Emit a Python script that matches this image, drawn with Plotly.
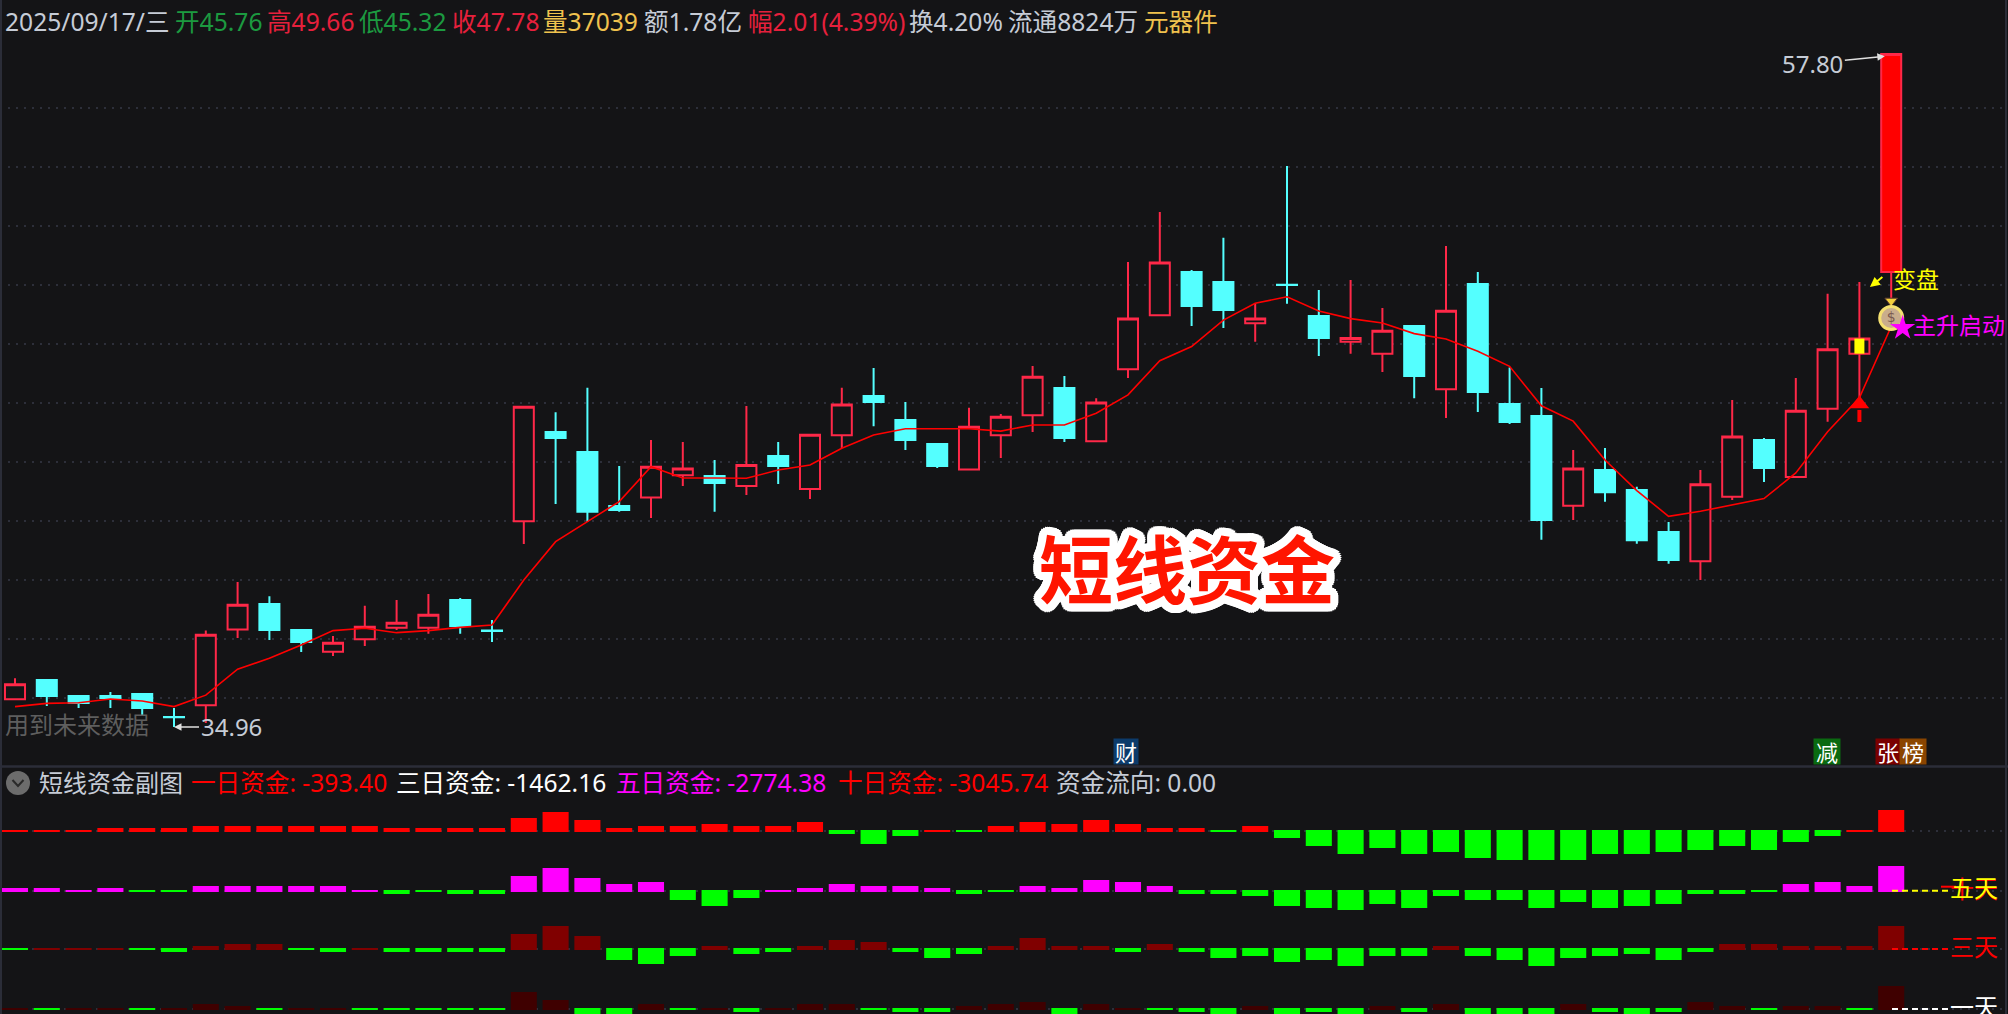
import math
import plotly.graph_objects as go

W, H = 2008, 1014
BG = "#141416"
FONT = "'Noto Sans', 'Noto Sans CJK SC'"
UP = "#ff2848"
DOWN = "#54ffff"
GRIDC = "#2d2f3a"
REDT = "#e6203c"
GREENT = "#1c9a40"
GOLD = "#f0c24e"
GREY = "#c6ccd6"

day_index = list(range(60))
open_px = [35.90, 36.55, 36.01, 36.01, 36.08, 35.30, 35.70, 38.27, 39.13, 38.25,
           37.51, 37.94, 38.33, 38.33, 39.27, 38.23, 41.94, 44.97, 44.29, 42.46,
           42.75, 43.50, 43.48, 43.14, 44.16, 43.04, 44.86, 46.19, 45.38, 44.56,
           43.70, 44.86, 45.54, 46.46, 44.66, 47.10, 48.93, 50.40, 50.06, 48.66,
           49.97, 48.91, 48.03, 47.63, 48.57, 46.42, 49.99, 45.92, 45.51, 42.47,
           43.68, 43.00, 41.58, 40.58, 42.77, 44.70, 43.44, 45.76, 47.63, 50.40]
high_px = [36.61, 36.55, 36.01, 36.15, 36.08, 35.60, 38.23, 39.88, 39.40, 38.25,
           38.05, 39.07, 39.27, 39.47, 39.34, 38.59, 45.83, 45.64, 46.47, 43.82,
           44.70, 44.63, 44.02, 45.85, 44.63, 44.88, 46.47, 47.14, 45.99, 44.56,
           45.79, 45.58, 47.21, 46.87, 46.12, 50.74, 52.44, 50.47, 51.56, 49.35,
           54.00, 49.79, 50.13, 49.18, 48.57, 51.28, 50.40, 47.16, 46.46, 44.36,
           44.43, 43.11, 41.92, 43.68, 46.06, 44.77, 46.80, 49.66, 50.06, 57.80]
low_px = [35.90, 35.67, 35.60, 35.60, 35.33, 34.96, 35.09, 37.98, 37.91, 37.50,
          37.37, 37.71, 38.25, 38.12, 38.12, 37.84, 41.17, 42.53, 41.92, 42.26,
          42.05, 43.14, 42.26, 42.83, 43.21, 42.70, 44.43, 45.17, 44.36, 43.75,
          43.70, 44.09, 44.97, 44.63, 44.66, 46.80, 48.93, 48.57, 48.50, 48.03,
          49.32, 47.55, 47.63, 47.01, 46.12, 45.45, 45.65, 45.24, 41.31, 41.98,
          42.60, 41.18, 40.50, 39.95, 42.66, 43.27, 43.44, 45.32, 46.12, 49.52]
close_px = [36.41, 36.01, 35.77, 35.94, 35.60, 35.29, 38.09, 39.11, 38.25, 37.84,
            37.82, 38.36, 38.50, 38.77, 38.39, 38.22, 45.83, 44.77, 42.26, 42.32,
            43.79, 43.73, 43.24, 43.85, 43.82, 44.88, 45.90, 45.99, 44.70, 43.82,
            45.15, 45.49, 46.85, 44.77, 45.97, 48.82, 50.72, 49.25, 49.11, 48.82,
            49.96, 48.16, 48.16, 48.41, 46.87, 49.09, 46.33, 45.31, 41.98, 43.73,
            42.93, 41.30, 40.63, 43.20, 44.82, 43.75, 45.69, 47.78, 48.14, 57.80]
ma_line = [35.65, 35.76, 35.78, 35.91, 35.84, 35.65, 36.04, 36.92, 37.29, 37.74,
           38.23, 38.31, 38.16, 38.23, 38.34, 38.42, 39.95, 41.25, 41.93, 42.61,
           43.79, 43.41, 43.41, 43.40, 43.68, 43.85, 44.42, 44.87, 45.08, 45.08,
           45.08, 45.00, 45.21, 45.21, 45.61, 46.23, 47.39, 47.87, 48.77, 49.34,
           49.56, 49.08, 48.82, 48.67, 48.31, 48.13, 47.71, 47.20, 45.86, 45.34,
           44.02, 42.98, 42.11, 42.28, 42.49, 42.71, 43.58, 44.98, 46.13, 48.55]
grid_prices = [35.95, 37.96, 39.96, 41.96, 43.96, 45.97, 47.97, 49.97, 51.97, 53.98, 55.98]

ten_day = [2, 2, 2, 4, 4, 4, 6, 6, 6, 6, 6, 6, 4, 4, 4, 4, 14, 20, 12, 4, 6, 6,
           8, 6, 6, 10, -4, -14, -6, 2, -2, 6, 10, 8, 12, 8, 4, 4, -2, 6, -8, -16,
           -24, -18, -24, -22, -28, -30, -30, -30, -24, -24, -22, -20, -16, -20, -12, -6, 2, 22]
five_day = [4, 4, 2, 4, -2, -2, 6, 6, 6, 6, 6, 2, -4, -2, -4, -4, 16, 24, 14, 8, 10, -10,
            -16, -8, 2, 4, 8, 6, 6, 4, -4, -2, 6, 4, 12, 10, 6, -4, -4, -6, -16, -18,
            -20, -14, -18, -6, -10, -10, -18, -12, -18, -16, -14, -4, -4, -2, 8, 10, 6, 26]
three_day = [-2, 2, 2, 2, -2, -4, 4, 6, 6, -2, -4, 2, -4, -4, -4, -4, 16, 24, 14, -12, -16, -8,
             4, -6, -4, 4, 10, 8, -4, -10, -6, 4, 12, 4, 4, -4, 6, -4, -10, -8, -14, -12,
             -18, -8, -8, 4, -8, -12, -18, -10, -8, -6, -12, -4, 6, 6, 4, 4, 4, 24]
one_day = [2, -2, 2, 2, -2, 2, 6, 4, -2, 2, 2, -2, -2, -2, -2, -2, 18, 10, -8, -8, 6, -2,
           2, -4, 2, 6, 6, -2, -4, -4, 4, 6, 8, -8, 6, 2, -2, -4, -8, 4, -8, -4,
           -8, 4, -4, 6, -8, -8, -8, 6, -4, -8, -4, 8, 4, -2, 4, 4, -2, 24]

header = [("2025/09/17/三", 3, GREY), ("开45.76", 173, GREENT), ("高49.66", 265, REDT), ("低45.32", 357, GREENT),
          ("收47.78", 450, REDT), ("量37039", 541, GOLD), ("额1.78亿", 642, GREY), ("幅2.01(4.39%)", 746, REDT),
          ("换4.20%", 907, GREY), ("流通8824万", 1006, GREY), ("元器件", 1142, GOLD)]
sub_header = [("短线资金副图", 37, GREY), ("一日资金: -393.40", 189, "#ff0000"), ("三日资金: -1462.16", 394, "#ffffff"),
              ("五日资金: -2774.38", 614, "#ff00ff"), ("十日资金: -3045.74", 836, "#ff0000"), ("资金流向: 0.00", 1054, GREY)]


def px(x):
    return x / W


def py(y):
    return 1 - y / H


annotations = []


def label(text, x, y, color, size=24, anchor="left", **kw):
    annotations.append(dict(text=text, x=px(x), y=py(y), xref="paper", yref="paper", xanchor=anchor,
                            yanchor="middle", showarrow=False, font=dict(family=FONT, size=size, color=color), **kw))


fig = go.Figure()

# main candles
fig.add_trace(go.Candlestick(
    x=day_index[:-1], open=open_px[:-1], high=high_px[:-1], low=low_px[:-1], close=close_px[:-1],
    increasing=dict(line=dict(color=UP, width=2), fillcolor=BG),
    decreasing=dict(line=dict(color=DOWN, width=2), fillcolor=DOWN),
    whiskerwidth=0, hoverinfo="skip", showlegend=False))
fig.add_trace(go.Candlestick(
    x=day_index[-1:], open=open_px[-1:], high=high_px[-1:], low=low_px[-1:], close=close_px[-1:],
    increasing=dict(line=dict(color=UP, width=2), fillcolor="#ff0000"),
    decreasing=dict(line=dict(color=DOWN, width=2), fillcolor=DOWN),
    whiskerwidth=0, hoverinfo="skip", showlegend=False))
# yellow marked day
fig.add_trace(go.Scatter(x=[58, 58], y=[open_px[58], close_px[58]], mode="lines", line=dict(color="#ffff00", width=10),
                         hoverinfo="skip", showlegend=False))
# moving line
fig.add_trace(go.Scatter(x=day_index, y=ma_line, mode="lines", line=dict(color="#ff0000", width=1.6),
                         hoverinfo="skip", showlegend=False))
# buy arrow on day 58
fig.add_trace(go.Scatter(x=[58, 58], y=[45.72, 45.31], mode="lines", line=dict(color="#ff0000", width=4),
                         hoverinfo="skip", showlegend=False))
fig.add_trace(go.Scatter(x=[58], y=[45.92], mode="markers", marker=dict(symbol="triangle-up", size=17, color="#ff0000"),
                         hoverinfo="skip", showlegend=False))
# money bag and star on day 59
fig.add_trace(go.Scatter(x=[59], y=[49.42], mode="markers", marker=dict(symbol="triangle-down", size=11, color="#f2cf3c",
                         line=dict(color="#5a3a30", width=1)), hoverinfo="skip", showlegend=False))
fig.add_trace(go.Scatter(x=[59], y=[48.84], mode="markers+text", text=["$"], textposition="middle center",
                         textfont=dict(size=14, color="#7a5a50", family="DejaVu Sans"),
                         marker=dict(symbol="circle", size=23, color="#c9ad8c", line=dict(color="#f4e070", width=3)),
                         hoverinfo="skip", showlegend=False))
fig.add_trace(go.Scatter(x=[59.36], y=[48.50], mode="markers", marker=dict(symbol="star", size=19, color="#ff00ff"),
                         hoverinfo="skip", showlegend=False))


def fund_bars(values, up_color, axis):
    colors = [up_color if v > 0 else "#00ff00" for v in values]
    bases = [-1 if v > 0 else 1 for v in values]
    fig.add_trace(go.Bar(x=day_index, y=values, base=bases, width=0.82, yaxis=axis,
                         marker=dict(color=colors, line=dict(width=0)), hoverinfo="skip", showlegend=False))


fund_bars(ten_day, "#ff0000", "y2")
fund_bars(five_day, "#ff00ff", "y3")
fund_bars(three_day, "#800000", "y4")
fund_bars(one_day, "#3f0000", "y5")

for t, x, c in header:
    label(t, x, 21.5, c, 24.6)
for t, x, c in sub_header:
    label(t, x, 782.5, c, 24.6 if x > 100 else 24)

label("用到未来数据", 3, 724, "#5e5e5e")

# price arrows
annotations.append(dict(x=5, y=34.96, xref="x", yref="y", text="34.96", ax=57, ay=0, axref="pixel", ayref="pixel",
                        showarrow=True, arrowhead=2, arrowsize=1, arrowwidth=1.5, arrowcolor="#e0e0e0",
                        font=dict(family=FONT, size=24, color=GREY)))
annotations.append(dict(x=58.8, y=57.72, xref="x", yref="y", text="57.80", ax=-72, ay=7, axref="pixel", ayref="pixel",
                        showarrow=True, arrowhead=2, arrowsize=1, arrowwidth=1.5, arrowcolor="#e0e0e0",
                        font=dict(family=FONT, size=24, color=GREY)))
# yellow pointer to the 变盘 label
annotations.append(dict(x=58.33, y=49.89, xref="x", yref="y", text=" ", ax=15, ay=-12, axref="pixel", ayref="pixel",
                        showarrow=True, arrowhead=2, arrowsize=1, arrowwidth=2, arrowcolor="#ffff00",
                        font=dict(family=FONT, size=8, color="#ffff00")))
label("变盘", 1891, 279, "#ffff00", 23)
label("主升启动", 1911, 325, "#ff00ff", 23)

# big title with white outline
shadow = ", ".join(f"{8*math.cos(a*math.pi/12):.1f}px {8*math.sin(a*math.pi/12):.1f}px 0 #ffffff" for a in range(24))
annotations.append(dict(text="<b>短线资金</b>", x=px(1187), y=py(565), xref="paper", yref="paper", showarrow=False,
                        xanchor="center", yanchor="middle",
                        font=dict(family="Noto Sans CJK SC", size=74, color="#ff1500", shadow=shadow)))

# small badges
for t, x0, x1, c in [("财", 1114, 1138, "#0c3b6b"), ("减", 1814, 1840, "#0a6a10"), ("张", 1876, 1900, "#7a0000"), ("榜", 1900, 1926, "#8a4500")]:
    annotations.append(dict(text=t, x=px((x0 + x1) / 2), y=py(751), xref="paper", yref="paper", showarrow=False,
                            xanchor="center", yanchor="middle", width=x1 - x0, height=25, bgcolor=c, borderpad=0,
                            font=dict(family=FONT, size=22, color="#ffffff")))

# right-hand labels
label("十天", 1948, 888, "#ff0000")
label("五天", 1948, 887.5, "#ffff00")
label("三天", 1948, 946, "#ff0000")
label("一天", 1948, 1006, "#ffffff")

shapes = []
for yy, c in [(890.7, "#ffff00"), (949, "#ff0000"), (1009, "#ffffff")]:
    shapes.append(dict(type="line", xref="paper", yref="paper", x0=px(1892), x1=px(1950), y0=py(yy), y1=py(yy),
                       line=dict(color=c, width=2, dash="6px,4px")))
shapes.append(dict(type="line", xref="paper", yref="paper", x0=px(1941), x1=px(1956), y0=py(886.7), y1=py(886.7),
                   line=dict(color="#ff0000", width=2)))
for x in (1, 2006):
    shapes.append(dict(type="line", xref="paper", yref="paper", x0=px(x), x1=px(x), y0=0, y1=1,
                       line=dict(color="#2b2d38", width=2)))
shapes.append(dict(type="line", xref="paper", yref="paper", x0=0, x1=1, y0=py(766.5), y1=py(766.5),
                   line=dict(color="#2b2d38", width=2.5)))
shapes.append(dict(type="circle", xref="paper", yref="paper", x0=px(6), x1=px(30), y0=py(795), y1=py(771),
                   fillcolor="#6c6c6c", line=dict(width=0)))
shapes.append(dict(type="path", xref="paper", yref="paper",
                   path=f"M {px(12.5)} {py(780)} L {px(18)} {py(786)} L {px(23.5)} {py(780)}",
                   line=dict(color="#2a2a2a", width=2)))

hidden = dict(visible=True, showticklabels=False, showline=False, ticks="", zeroline=False)


def row_axis(top, bottom, base):
    return dict(domain=[py(bottom), py(top)], range=[base - bottom, base - top], anchor="x",
                tickvals=[0], showgrid=True, gridcolor=GRIDC, griddash="2px,6px", gridwidth=2, fixedrange=True, **hidden)


fig.update_layout(
    width=W, height=H, margin=dict(l=0, r=0, t=0, b=0, pad=0), paper_bgcolor=BG, plot_bgcolor=BG,
    showlegend=False, barmode="overlay", boxmode="overlay", boxgap=0.37, boxgroupgap=0, hovermode=False,
    xaxis=dict(domain=[0, 1], range=[-0.4717, 62.673], rangeslider=dict(visible=False), showgrid=False,
               anchor="y", **hidden),
    yaxis=dict(domain=[py(736), py(36)], range=[34.653, 58.411], tickvals=grid_prices, showgrid=True,
               gridcolor=GRIDC, griddash="2px,6px", gridwidth=2, **hidden),
    yaxis2=row_axis(790, 875, 831),
    yaxis3=row_axis(860, 918, 891),
    yaxis4=row_axis(920, 975, 949),
    yaxis5=row_axis(985, 1014, 1009),
    annotations=annotations, shapes=shapes,
)

fig.write_html("out.html", config=dict(displayModeBar=False, staticPlot=True),
               post_script="document.body.style.margin='0';document.body.style.overflow='hidden';")
